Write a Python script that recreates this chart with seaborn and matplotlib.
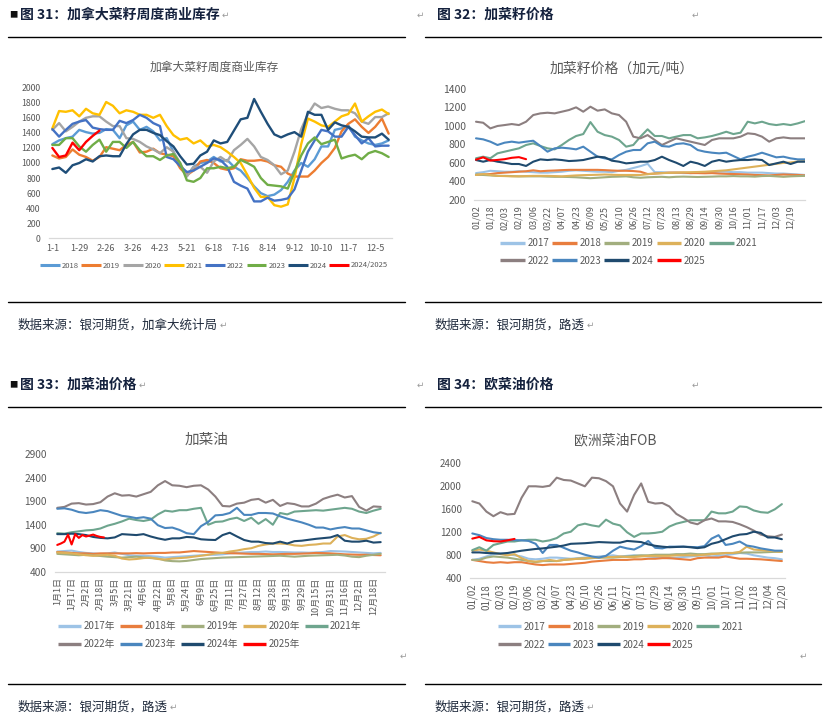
import numpy as np
import pandas as pd
import matplotlib
matplotlib.use("Agg")
import matplotlib.pyplot as plt
from matplotlib.lines import Line2D
import seaborn as sns

# ---------------- Panel 1: weekly commercial stocks (kt) ----------------
wk_labels = ["1-1", "1-29", "2-26", "3-26", "4-23", "5-21", "6-18", "7-16",
             "8-14", "9-12", "10-10", "11-7", "12-5"]
wk_2018 = [1250, 1300, 1330, 1350, 1440, 1410, 1390, 1400, 1450, 1440,
           1330, 1500, 1550, 1440, 1480, 1420, 1300, 1330, 1150, 950,
           830, 950, 1000, 1020, 1080, 1020, 1040, 950, 900, 800,
           690, 600, 560, 580, 640, 750, 900, 1000, 950, 1050,
           1220, 1220, 1440, 1460, 1500, 1350, 1300, 1260, 1240, 1260, 1300]
wk_2019 = [1100, 1060, 1080, 1180, 1110, 1080, 1030, 1080, 1210, 1190,
           1170, 1240, 1280, 1140, 1150, 1190, 1130, 1110, 1090, 930,
           840, 900, 1020, 1040, 1000, 930, 910, 930, 1050, 1030,
           1030, 1040, 1020, 970, 950, 860, 820, 820, 820, 900,
           1000, 1080, 1200, 1420, 1520, 1580, 1480, 1400, 1480, 1590, 1390]
wk_2020 = [1440, 1530, 1420, 1480, 1550, 1600, 1620, 1620, 1550, 1490,
           1490, 1330, 1320, 1280, 1220, 1180, 1130, 1210, 1150, 1000,
           820, 950, 950, 870, 1020, 1080, 1020, 1170, 1240, 1320,
           1220, 1080, 1040, 970, 850, 900, 1150, 1450, 1650, 1790,
           1730, 1750, 1720, 1700, 1700, 1660, 1550, 1520, 1610, 1610, 1660]
wk_2021 = [1460, 1690, 1680, 1700, 1620, 1720, 1660, 1640, 1810, 1760,
           1660, 1700, 1680, 1640, 1640, 1600, 1640, 1490, 1370, 1310,
           1330, 1260, 1300, 1220, 1240, 1210, 1150, 1080, 1000, 840,
           670, 550, 550, 440, 420, 450, 800, 1250, 1590, 1550,
           1500, 1480, 1550, 1620, 1650, 1790, 1550, 1620, 1680, 1710, 1650]
wk_2022 = [1450, 1350, 1440, 1520, 1550, 1570, 1470, 1450, 1440, 1440,
           1560, 1530, 1570, 1640, 1600, 1530, 1490, 1080, 1050, 960,
           880, 900, 950, 1000, 1060, 1040, 950, 750, 700, 660,
           490, 490, 540, 500, 510, 530, 650, 900, 1150, 1300,
           1440, 1420, 1350, 1350, 1480, 1370, 1260, 1330, 1220, 1230, 1230]
wk_2023 = [1240, 1240, 1330, 1330, 1220, 1150, 1240, 1310, 1150, 1280,
           1280, 1200, 1280, 1170, 1090, 1090, 1040, 1100, 1120, 1000,
           770, 750, 800, 930, 930, 950, 930, 950, 1040, 1000,
           950, 800, 710, 700, 690, 660, 880, 1100, 1260, 1340,
           1250, 1280, 1310, 1060, 1090, 1110, 1050, 1130, 1160, 1130, 1080]
wk_2024 = [920, 940, 870, 970, 1000, 1050, 1020, 1090, 1100, 1090,
           1090, 1250, 1380, 1440, 1440, 1400, 1370, 1290, 1220, 1090,
           980, 990, 1100, 1150, 1300, 1260, 1280, 1430, 1580, 1600,
           1850, 1680, 1520, 1380, 1340, 1380, 1410, 1350, 1680, 1640,
           1640, 1440, 1540, 1500, 1480, 1420, 1350, 1340, 1340, 1390, 1310]
wk_2025 = [1200, 1080, 1100, 1270, 1170, 1280, 1360, 1430]

# ---------------- Panel 2: canola seed price (CAD/t) ----------------
rs_labels = ["01/02", "01/18", "02/03", "02/19", "03/06", "03/22", "04/07", "04/23",
             "05/09", "05/25", "06/10", "06/26", "07/12", "07/28", "08/13", "08/29",
             "09/14", "09/30", "10/16", "11/01", "11/17", "12/03", "12/19"]
rs_2017 = [490, 500, 515, 510, 505, 505, 510, 505, 500, 495,
           495, 500, 505, 515, 520, 515, 510, 505, 505, 500,
           515, 525, 545, 565, 590, 500, 500, 495, 495, 490,
           490, 495, 495, 500, 505, 505, 500, 500, 495, 495,
           495, 490, 485, 485, 480, 475, 470]
rs_2018 = [470, 475, 480, 490, 495, 500, 505, 510, 520, 510,
           515, 518, 522, 525, 525, 525, 525, 525, 522, 518,
           515, 515, 512, 505, 480, 485, 490, 495, 495, 495,
           490, 490, 488, 490, 485, 482, 480, 478, 475, 470,
           468, 465, 470, 475, 472, 470, 465]
rs_2019 = [475, 470, 465, 460, 460, 458, 455, 455, 455, 455,
           452, 450, 450, 448, 445, 440, 435, 440, 445, 450,
           452, 455, 445, 440, 445, 448, 450, 445, 450, 452,
           450, 448, 450, 452, 455, 455, 458, 455, 455, 452,
           458, 460, 455, 450, 455, 458, 460]
rs_2020 = [470, 480, 470, 460, 458, 455, 455, 458, 460, 460,
           460, 458, 455, 460, 465, 468, 470, 472, 475, 472,
           470, 470, 470, 470, 478, 485, 490, 492, 495, 498,
           500, 502, 505, 510, 515, 520, 530, 540, 550, 560,
           570, 580, 590, 600, 605, 615, 620]
rs_2021 = [650, 667, 650, 703, 721, 739, 757, 793, 811, 782,
           757, 746, 793, 847, 890, 911, 1040, 936, 900, 883,
           847, 775, 793, 883, 962, 890, 890, 865, 883, 900,
           900, 865, 875, 890, 911, 936, 911, 926, 1044, 1026,
           1044, 1019, 1008, 1019, 1008, 1026, 1050]
rs_2022 = [1044, 1033, 972, 998, 1008, 1019, 1008, 1044, 1116, 1134,
           1141, 1134, 1152, 1170, 1199, 1152, 1206, 1163, 1177, 1134,
           1116, 1044, 883, 865, 900, 847, 793, 829, 865, 847,
           829, 811, 793, 847, 865, 865, 865, 883, 919, 911,
           883, 829, 865, 875, 865, 865, 865]
rs_2023 = [865, 854, 829, 793, 818, 829, 818, 829, 839, 782,
           721, 757, 764, 757, 746, 775, 721, 667, 649, 638,
           685, 721, 739, 739, 811, 829, 782, 775, 804, 811,
           793, 739, 721, 710, 703, 710, 674, 638, 667, 685,
           710, 685, 660, 667, 649, 638, 638]
rs_2024 = [631, 613, 631, 613, 602, 588, 588, 567, 613, 638,
           631, 638, 631, 620, 624, 631, 649, 667, 660, 624,
           613, 595, 602, 613, 613, 631, 667, 631, 602, 567,
           613, 595, 567, 613, 631, 613, 624, 631, 631, 638,
           631, 577, 595, 613, 588, 613, 613]
rs_2025 = [635, 660, 625, 632, 640, 655, 662, 640]

# ---------------- Panel 3: canola oil price ----------------
co_labels = ["1月1日", "1月17日", "2月2日", "2月18日", "3月5日", "3月21日", "4月6日",
             "4月22日", "5月8日", "5月24日", "6月9日", "6月25日", "7月11日", "7月27日",
             "8月12日", "8月28日", "9月13日", "9月29日", "10月15日", "10月31日",
             "11月16日", "12月2日", "12月18日"]
co_2017 = [830, 840, 850, 820, 800, 790, 780, 790, 810, 780,
           750, 740, 740, 730, 720, 700, 710, 720, 730, 740,
           750, 760, 760, 770, 790, 800, 810, 820, 820, 830,
           820, 820, 815, 810, 810, 805, 810, 820, 840, 835,
           830, 820, 810, 800, 790, 800]
co_2018 = [820, 810, 800, 790, 790, 780, 790, 790, 790, 790,
           790, 795, 790, 795, 800, 800, 810, 810, 825, 840,
           830, 820, 810, 800, 795, 790, 785, 780, 780, 775,
           770, 775, 780, 780, 785, 790, 800, 795, 790, 780,
           770, 765, 760, 760, 755, 750]
co_2019 = [780, 770, 760, 750, 760, 745, 735, 720, 710, 700,
           710, 720, 705, 690, 680, 640, 625, 620, 630, 650,
           670, 680, 690, 700, 705, 710, 715, 720, 725, 730,
           735, 740, 730, 720, 730, 740, 745, 750, 755, 760,
           745, 720, 710, 740, 760, 780]
co_2020 = [810, 800, 790, 770, 750, 740, 750, 760, 740, 680,
           660, 670, 690, 700, 670, 660, 680, 690, 700, 720,
           740, 760, 790, 800, 830, 850, 880, 900, 950, 980,
           1000, 1000, 990, 960, 950, 970, 980, 1000, 1000, 1150,
           1180, 1120, 1090, 1100, 1150, 1230]
co_2021 = [1220, 1210, 1240, 1260, 1280, 1290, 1320, 1380, 1420, 1470,
           1530, 1500, 1480, 1510, 1620, 1700, 1680, 1710, 1710, 1740,
           1760, 1400, 1460, 1470, 1520, 1550, 1480, 1550, 1420, 1520,
           1400, 1650, 1620, 1680, 1690, 1700, 1710, 1700, 1720, 1740,
           1760, 1740, 1680, 1650, 1700, 1740]
co_2022 = [1760, 1780, 1850, 1860, 1830, 1840, 1880, 2000, 2070, 2020,
           2030, 2000, 2050, 2100, 2240, 2330, 2240, 2230, 2200, 2230,
           2240, 2150, 2000, 1800, 1790, 1850, 1870, 1930, 1950, 1870,
           1930, 1800, 1860, 1840, 1790, 1790, 1850, 1950, 2000, 2040,
           1980, 2010, 1780, 1700, 1790, 1780]
co_2023 = [1740, 1750, 1720, 1670, 1650, 1670, 1710, 1690, 1640, 1590,
           1570, 1540, 1560, 1530, 1390, 1330, 1340, 1290, 1220, 1200,
           1370, 1460, 1600, 1610, 1650, 1760, 1610, 1610, 1650, 1650,
           1640, 1580, 1530, 1490, 1450, 1400, 1340, 1340, 1300, 1330,
           1350, 1320, 1320, 1280, 1240, 1220]
co_2024 = [1200, 1200, 1210, 1200, 1180, 1140, 1120, 1110, 1130, 1200,
           1190, 1180, 1200, 1150, 1110, 1080, 1110, 1110, 1140, 1130,
           1090, 1080, 1075, 1180, 1230, 1150, 1075, 1040, 1040, 1010,
           1000, 1040, 1000, 1050, 1060, 1080, 1100, 1115, 1130, 1180,
           1060, 1040, 1040, 1060, 1020, 1030]
co_2025 = [970, 1000, 1040, 1190, 980, 1200, 1120, 1180, 1150, 1170,
           1190, 1160, 1140, 1130]

# ---------------- Panel 4: EU rapeseed oil FOB ----------------
eu_labels = ["01/02", "01/18", "02/03", "02/19", "03/06", "03/22", "04/07", "04/23",
             "05/10", "05/26", "06/11", "06/27", "07/13", "07/29", "08/14", "08/30",
             "09/15", "10/01", "10/17", "11/02", "11/18", "12/04", "12/20"]
eu_2017 = [720, 740, 780, 820, 830, 820, 800, 780, 740, 730,
           740, 760, 760, 750, 740, 750, 760, 770, 780, 790,
           800, 780, 790, 800, 790, 780, 770, 760, 750, 760,
           770, 780, 790, 800, 780, 790, 800, 820, 840, 830,
           800, 780, 760, 750, 730]
eu_2018 = [720, 700, 680, 670, 680, 670, 680, 680, 660, 640,
           630, 640, 640, 640, 650, 660, 670, 690, 700, 710,
           720, 720, 720, 730, 730, 740, 740, 750, 750, 740,
           730, 720, 750, 760, 760, 760, 780, 760, 740, 740,
           735, 730, 720, 710, 700]
eu_2019 = [720, 720, 760, 780, 770, 760, 740, 720, 700, 680,
           700, 700, 700, 720, 730, 740, 740, 750, 760, 760,
           760, 770, 780, 790, 800, 800, 810, 810, 810, 820,
           820, 830, 820, 820, 830, 830, 840, 840, 845, 850,
           850, 850, 855, 860, 860]
eu_2020 = [880, 900, 880, 850, 820, 800, 820, 750, 700, 690,
           700, 720, 700, 720, 730, 740, 750, 760, 760, 770,
           770, 780, 770, 770, 780, 790, 790, 790, 790, 800,
           800, 800, 800, 810, 820, 830, 840, 840, 860, 950,
           900, 890, 880, 870, 860]
eu_2021 = [890, 940, 880, 980, 1010, 1040, 1040, 1060, 1070, 1070,
           1040, 1060, 1100, 1180, 1210, 1320, 1350, 1320, 1300, 1420,
           1350, 1320, 1200, 1120, 1180, 1180, 1190, 1210, 1300, 1350,
           1380, 1410, 1410, 1410, 1560, 1530, 1530, 1560, 1650, 1640,
           1580, 1550, 1540, 1600, 1690]
eu_2022 = [1740, 1700, 1560, 1480, 1550, 1510, 1520, 1800, 2000, 2000,
           1990, 2010, 2150, 2110, 2100, 2050, 2000, 2150, 2140, 2090,
           2000, 1700, 1560, 1850, 2050, 1730, 1700, 1710, 1650, 1520,
           1450, 1370, 1340, 1410, 1440, 1390, 1390, 1380, 1340, 1290,
           1230, 1160, 1130, 1120, 1160]
eu_2023 = [1180, 1150, 1100, 1080, 1070, 1070, 1065, 1060, 1050, 1000,
           840, 980, 980, 930, 880, 850, 810, 780, 760, 790,
           880, 950, 920, 900, 960, 1050, 930, 920, 950, 950,
           950, 945, 940, 960, 1090, 1150, 980, 1000, 1040, 970,
           950, 920, 900, 880, 880]
eu_2024 = [850, 850, 840, 835, 830, 840, 860, 880, 895, 910,
           920, 935, 950, 970, 1000, 1005, 1010, 1020, 1030, 1025,
           1020, 1020, 1050, 1040, 1030, 990, 965, 950, 940, 945,
           950, 940, 925, 940, 1000, 1030, 1080, 1130, 1160, 1170,
           1210, 1190, 1110, 1110, 1080]
eu_2025 = [1090, 1120, 1060, 1045, 1040, 1060, 1085]

# ---------------- styling ----------------
sns.set_theme(style="white")
plt.rcParams['font.family'] = ['Noto Sans CJK SC', 'DejaVu Sans']
plt.rcParams['axes.unicode_minus'] = False

W, H = 827, 727
fig = plt.figure(figsize=(W / 100, H / 100), dpi=100)
fig.patch.set_facecolor('white')

GRAY = '#595959'


def fx(x):
    return x / W


def fy(y):
    return 1 - y / H


def rect(x0, y0, x1, y1):
    return [x0 / W, 1 - y1 / H, (x1 - x0) / W, (y1 - y0) / H]


def style_ax(ax, yfs, xfs):
    for s in ['top', 'right', 'left']:
        ax.spines[s].set_visible(False)
    ax.spines['bottom'].set_color('#D9D9D9')
    ax.spines['bottom'].set_linewidth(0.9)
    ax.tick_params(axis='both', length=0, colors=GRAY)
    ax.tick_params(axis='y', labelsize=yfs, pad=6)
    ax.tick_params(axis='x', labelsize=xfs)
    ax.set_xlabel('')
    ax.set_ylabel('')
    ax.grid(False)
    ax.set_facecolor('none')


def draw_series(ax, names, series, colors, steps, lw):
    rows = []
    for n, s, st in zip(names, series, steps):
        for i, v in enumerate(s):
            rows.append((n, i * st, v))
    df = pd.DataFrame(rows, columns=['year', 'x', 'v'])
    sns.lineplot(data=df, x='x', y='v', hue='year', hue_order=names,
                 palette=dict(zip(names, colors)), linewidth=lw,
                 estimator=None, sort=False, legend=False, ax=ax)


def add_legend(labels, colors, x, ytop, fs, hl, cs, ls, ncol, lw):
    handles = [Line2D([], [], color=c, lw=lw, solid_capstyle='butt') for c in colors]
    labs = list(labels)
    if ncol == 5 and len(handles) == 9:
        order = [0, 5, 1, 6, 2, 7, 3, 8, 4]
        handles = [handles[i] for i in order]
        labs = [labs[i] for i in order]
    leg = fig.legend(handles, labs, loc='upper left',
                     bbox_to_anchor=(fx(x), fy(ytop)), ncol=ncol, frameon=False,
                     fontsize=fs, handlelength=hl, handletextpad=0.25,
                     columnspacing=cs, labelspacing=ls, borderpad=0,
                     borderaxespad=0)
    for t in leg.get_texts():
        t.set_color(GRAY)
    return leg


# ---------------- document framing ----------------
HEAD = '#14213d'
SRC = '#1f2a3c'
RET = '#9a9a9a'
for (x0, x1) in [(8, 405), (425, 821)]:
    for y in [37, 302, 407, 684]:
        fig.add_artist(Line2D([fx(x0), fx(x1)], [fy(y), fy(y)], color='black', lw=1.0))

fig.text(fx(9), fy(15), '■', fontsize=6, color='#111111', va='center', ha='left')
fig.text(fx(9), fy(385), '■', fontsize=6, color='#111111', va='center', ha='left')

heads = [
    (fig.text(fx(20), fy(15), '图 31：加拿大菜籽周度商业库存', fontsize=10, weight='bold',
              color=HEAD, va='center', ha='left'), 15),
    (fig.text(fx(20), fy(385), '图 33：加菜油价格', fontsize=10, weight='bold',
              color=HEAD, va='center', ha='left'), 385),
    (fig.text(fx(18), fy(325), '数据来源：银河期货，加拿大统计局', fontsize=9, color=SRC,
              va='center', ha='left'), 325),
    (fig.text(fx(435), fy(325), '数据来源：银河期货，路透', fontsize=9, color=SRC,
              va='center', ha='left'), 325),
    (fig.text(fx(18), fy(707), '数据来源：银河期货，路透', fontsize=9, color=SRC,
              va='center', ha='left'), 707),
    (fig.text(fx(435), fy(707), '数据来源：银河期货，路透', fontsize=9, color=SRC,
              va='center', ha='left'), 707),
]
fig.text(fx(437), fy(15), '图 32：加菜籽价格', fontsize=10, weight='bold',
         color=HEAD, va='center', ha='left')
fig.text(fx(437), fy(385), '图 34：欧菜油价格', fontsize=10, weight='bold',
         color=HEAD, va='center', ha='left')

fig.canvas.draw()
renderer = fig.canvas.get_renderer()
for t, y in heads:
    bb = t.get_window_extent(renderer)
    fig.text((bb.x1 + 2) / W, fy(y), '↵', fontsize=6.5, color=RET, va='center',
             ha='left', family=['DejaVu Sans'])

for (x, y) in [(417, 15), (692, 15), (417, 385), (692, 385), (400, 656), (800, 656)]:
    fig.text(fx(x), fy(y), '↵', fontsize=6.5, color=RET, va='center', ha='left',
             family=['DejaVu Sans'])

# ---------------- Panel 1 ----------------
names1 = ['2018', '2019', '2020', '2021', '2022', '2023', '2024', '2024/2025']
cols1 = ['#5B9BD5', '#ED7D31', '#A5A5A5', '#FFC000', '#4472C4', '#70AD47', '#1F4E79', '#FF0000']
ser1 = [wk_2018, wk_2019, wk_2020, wk_2021, wk_2022, wk_2023, wk_2024, wk_2025]
ax1 = fig.add_axes(rect(49, 87.7, 392, 238.3))
draw_series(ax1, names1, ser1, cols1, [1] * 8, 1.7)
ax1.set_xlim(-0.5, 50.5)
ax1.set_ylim(0, 2000)
ax1.set_yticks(range(0, 2001, 200))
ax1.set_xticks(range(0, 49, 4))
ax1.set_xticklabels(wk_labels)
style_ax(ax1, 6.3, 6.5)
ax1.tick_params(axis='x', pad=4)
fig.text(fx(214), fy(67), '加拿大菜籽周度商业库存', fontsize=8.5, color=GRAY,
         ha='center', va='center')
add_legend(names1, cols1, 40, 261.5, 5.5, 2.6, 0.33, 0.5, 8, 2.2)

# ---------------- Panel 2 ----------------
names = ['2017', '2018', '2019', '2020', '2021', '2022', '2023', '2024', '2025']
cols = ['#9DC3E6', '#E87D3E', '#A2AE7E', '#DDB15A', '#6EA58E', '#8C7F80', '#4A86BE',
        '#1F4A6E', '#FF0000']
ser2 = [rs_2017, rs_2018, rs_2019, rs_2020, rs_2021, rs_2022, rs_2023, rs_2024, rs_2025]
ax2 = fig.add_axes(rect(474.3, 88.7, 804.9, 200))
draw_series(ax2, names, ser2, cols, [0.5] * 9, 1.5)
ax2.set_xlim(-0.12, 23.0)
ax2.set_ylim(200, 1400)
ax2.set_yticks(range(200, 1401, 200))
ax2.set_xticks(range(len(rs_labels)))
ax2.set_xticklabels(rs_labels, rotation=90, va='top', ha='center')
style_ax(ax2, 7.5, 6.5)
ax2.tick_params(axis='x', pad=4)
fig.text(fx(622), fy(68), '加菜籽价格（加元/吨）', fontsize=10, color=GRAY,
         ha='center', va='center')
add_legend(names, cols, 500, 238.5, 7, 2.55, 0.33, 0.75, 5, 2.4)

# ---------------- Panel 3 ----------------
ser3 = [co_2017, co_2018, co_2019, co_2020, co_2021, co_2022, co_2023, co_2024, co_2025]
ax3 = fig.add_axes(rect(55.1, 454.3, 385, 571.7))
draw_series(ax3, names, ser3, cols, [0.5] * 8 + [0.25], 1.5)
ax3.set_xlim(-0.15, 22.8)
ax3.set_ylim(400, 2900)
ax3.set_yticks(range(400, 2901, 500))
ax3.set_xticks(range(len(co_labels)))
ax3.set_xticklabels(co_labels, rotation=90, va='top', ha='center')
style_ax(ax3, 7.3, 6.5)
ax3.tick_params(axis='x', pad=4)
fig.text(fx(207), fy(440), '加菜油', fontsize=10.5, color=GRAY, ha='center', va='center')
add_legend([n + '年' for n in names], cols, 58, 621.5, 7, 2.35, 0.5, 0.8, 5, 2.4)

# ---------------- Panel 4 ----------------
ser4 = [eu_2017, eu_2018, eu_2019, eu_2020, eu_2021, eu_2022, eu_2023, eu_2024, eu_2025]
ax4 = fig.add_axes(rect(470.2, 463.3, 785.4, 578.3))
draw_series(ax4, names, ser4, cols, [0.5] * 9, 1.5)
ax4.set_xlim(-0.15, 22.25)
ax4.set_ylim(400, 2400)
ax4.set_yticks(range(400, 2401, 400))
ax4.set_xticks(range(len(eu_labels)))
ax4.set_xticklabels(eu_labels, rotation=90, va='top', ha='center')
style_ax(ax4, 7, 7)
ax4.tick_params(axis='x', pad=4)
fig.text(fx(615), fy(440), '欧洲菜油FOB', fontsize=10, color=GRAY, ha='center', va='center')
add_legend(names, cols, 498, 621.5, 7, 2.35, 0.26, 0.85, 5, 2.4)

fig.savefig('out.png', dpi=100, facecolor='white')
